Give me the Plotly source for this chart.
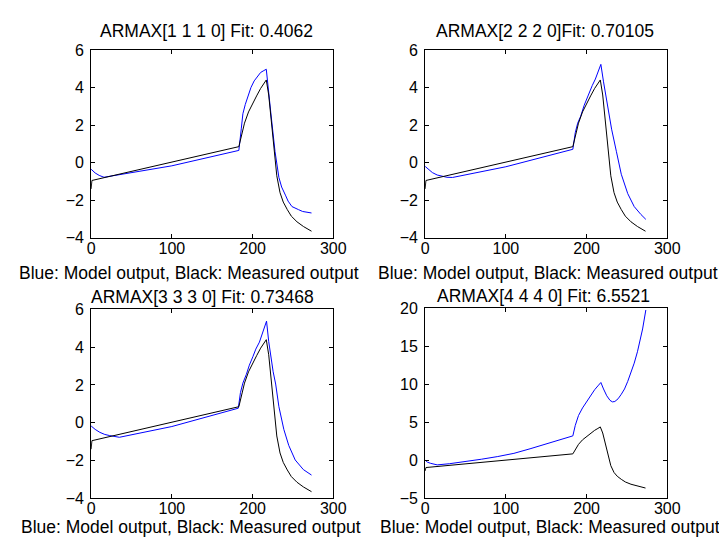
import plotly.graph_objects as go

# ---- data ----
t_meas = [0, 1, 183, 187, 190, 195, 200, 205, 210, 214, 217, 220, 224, 227, 230, 234, 238, 243, 248, 255, 263, 273]
y_meas = [-1.4, -0.95, 0.85, 1.6, 2.1, 2.7, 3.15, 3.55, 3.95, 4.2, 4.4, 3.6, 1.8, 0.3, -0.7, -1.6, -2.1, -2.5, -2.85, -3.15, -3.4, -3.65]

t_m1 = [0, 5, 10, 16, 100, 183, 186, 188, 191, 194, 198, 202, 206, 210, 214, 217, 222.6, 227.8, 232.6, 236, 240.7, 244, 248.8, 252, 256.8, 262, 273]
y_m1 = [-0.35, -0.55, -0.68, -0.78, -0.17, 0.65, 1.8, 2.6, 3.1, 3.5, 4.0, 4.35, 4.6, 4.8, 4.9, 4.97, 2.65, 0.59, -0.79, -1.3, -1.73, -2.05, -2.34, -2.42, -2.5, -2.6, -2.68]

t_m2 = [0, 5, 9, 15, 21, 27, 34, 100, 183, 186, 189, 192.7, 197, 202.8, 207, 210.9, 214, 217.7, 221, 225, 231, 237, 243, 251, 259, 267.3, 273.4]
y_m2 = [-0.2, -0.38, -0.53, -0.66, -0.74, -0.78, -0.79, -0.22, 0.71, 1.6, 2.1, 2.47, 3.05, 3.68, 4.1, 4.45, 4.8, 5.23, 4.3, 3.33, 1.78, 0.58, -0.62, -1.65, -2.34, -2.76, -3.02]

t_m3 = [0, 5, 10.9, 17, 23, 35, 100, 182.3, 185, 188, 192.3, 196, 200.4, 204, 208.5, 212, 215, 217.3, 220, 222.6, 225.5, 228.6, 232.6, 238.7, 244.8, 252.8, 262.9, 273]
y_m3 = [-0.17, -0.35, -0.51, -0.62, -0.68, -0.77, -0.2, 0.77, 1.6, 2.1, 2.56, 3.05, 3.5, 3.9, 4.27, 4.7, 5.1, 5.38, 4.3, 3.42, 2.7, 2.05, 0.85, -0.35, -1.2, -1.97, -2.48, -2.77]

t_m4 = [0, 3, 7, 15, 30, 50, 70, 90, 110, 130, 150, 170, 183, 186, 190, 195, 200, 205, 210, 214, 217.7, 221, 225, 229, 232, 235, 239, 243, 247, 251, 255, 259, 263, 266, 269.4, 273.4]
y_m4 = [0.03, -0.25, -0.4, -0.6, -0.45, -0.19, 0.15, 0.5, 0.92, 1.52, 2.15, 2.79, 3.22, 4.6, 5.9, 6.9, 7.7, 8.6, 9.3, 9.8, 10.25, 9.4, 8.5, 7.9, 7.7, 7.75, 8.1, 8.7, 9.4, 10.4, 11.5, 12.8, 14.3, 15.7, 17.3, 19.8]

titles = ["ARMAX[1 1 1 0] Fit: 0.4062", "ARMAX[2 2 2 0]Fit: 0.70105",
          "ARMAX[3 3 3 0] Fit: 0.73468", "ARMAX[4 4 4 0] Fit: 6.5521"]
xlabel = "Blue: Model output, Black: Measured output"
x_ticks = [0, 100, 200, 300]
y_ticks_a = [-4, -2, 0, 2, 4, 6]
y_ticks_b = [-5, 0, 5, 10, 15, 20]

models_t = [t_m1, t_m2, t_m3, t_m4]
models_y = [y_m1, y_m2, y_m3, y_m4]

W, H = 727, 539
FONT = "Arial, Liberation Sans, sans-serif"

# axes boxes in pixels: (left, right, top, bottom)
boxes = [(81, 329, 35, 229), (423, 671, 35, 229), (81, 329, 303, 498), (423, 671, 302, 498)]
yranges = [[-4, 6], [-4, 6], [-4, 6], [-5, 20]]
yticks = [y_ticks_a, y_ticks_a, y_ticks_a, y_ticks_b]
title_pos = [(199, 16), (546, 16), (195, 290), (544, 289)]
label_pos = [(181, 265), (549, 265), (183, 528), (551, 528)]

fig = go.Figure()
layout = dict(width=W, height=H, margin=dict(l=0, r=0, t=0, b=0),
              paper_bgcolor="white", plot_bgcolor="white", showlegend=False,
              font=dict(family=FONT, color="black"))
annotations = []
for i in range(4):
    n = "" if i == 0 else str(i + 1)
    l, r, t, b = boxes[i]
    axstyle = dict(showline=True, linecolor="black", linewidth=1, mirror="ticks",
                   ticks="inside", ticklen=4, tickcolor="black", showgrid=False,
                   zeroline=False, tickfont=dict(size=16, family=FONT, color="black"))
    layout["xaxis" + n] = dict(domain=[l / W, r / W], range=[0, 300], tickvals=x_ticks,
                               anchor="y" + n, ticklabelstandoff=-4, **axstyle)
    layout["yaxis" + n] = dict(domain=[1 - b / H, 1 - t / H], range=yranges[i], tickvals=yticks[i],
                               anchor="x" + n, ticklabelstandoff=3, **axstyle)
    fig.add_trace(go.Scatter(x=models_t[i], y=models_y[i], mode="lines",
                             line=dict(color="#0000ff", width=1), xaxis="x" + n, yaxis="y" + n))
    fig.add_trace(go.Scatter(x=t_meas, y=y_meas, mode="lines",
                             line=dict(color="black", width=1), xaxis="x" + n, yaxis="y" + n))
    tx, ty = title_pos[i]
    annotations.append(dict(text=titles[i], x=tx / W, y=1 - ty / H, xref="paper", yref="paper",
                            xanchor="center", yanchor="middle", showarrow=False,
                            font=dict(size=17.5, family=FONT, color="black")))
    lx, ly = label_pos[i]
    annotations.append(dict(text=xlabel, x=lx / W, y=1 - ly / H, xref="paper", yref="paper",
                            xanchor="center", yanchor="middle", showarrow=False,
                            font=dict(size=17.5, family=FONT, color="black")))
layout["annotations"] = annotations
fig.update_layout(**layout)
fig.write_html("out.html")
